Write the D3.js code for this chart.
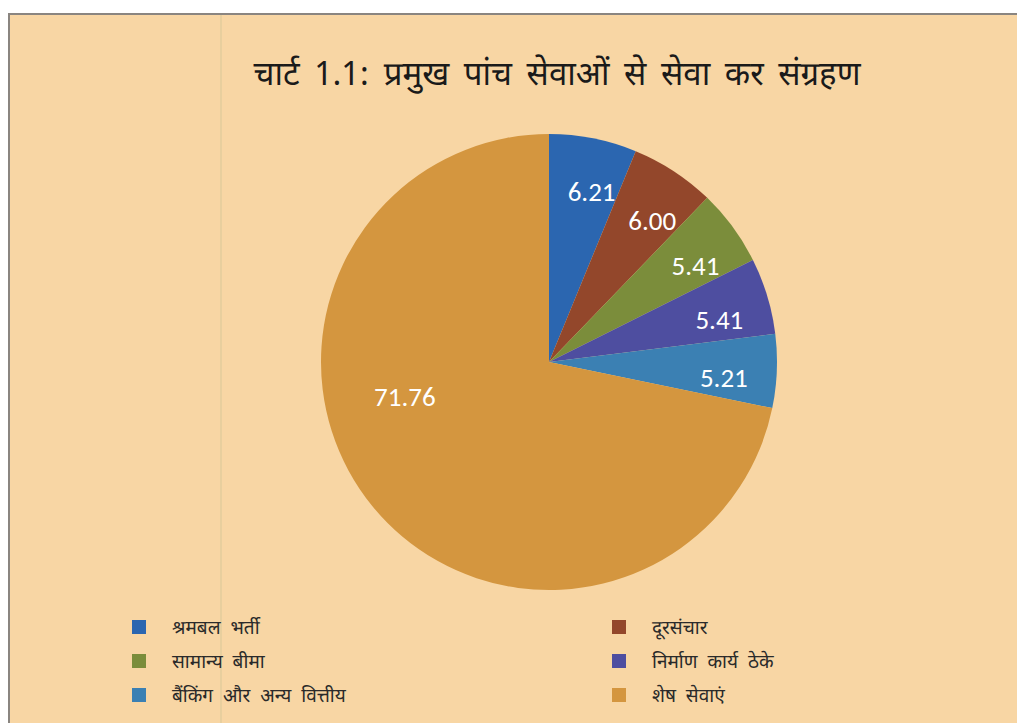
<!DOCTYPE html>
<html>
<head>
<meta charset="utf-8">
<script src="https://cdn.jsdelivr.net/npm/d3@7"></script>
<style>
  body { margin: 0; background: #fff; }
  svg { display: block; }
</style>
</head>
<body>
<svg width="1017" height="723"></svg>
<script>
const categories = ['श्रमबल भर्ती', 'दूरसंचार', 'सामान्य बीमा', 'निर्माण कार्य ठेके', 'बैंकिंग और अन्य वित्तीय', 'शेष सेवाएं'];
const shares = [6.21, 6.00, 5.41, 5.41, 5.21, 71.76];
const sliceColors = ['#2b66b0', '#93472b', '#7b8d3b', '#4e4ea0', '#3b80b3', '#d4963f'];
const titleText = 'चार्ट 1.1: प्रमुख पांच सेवाओं से सेवा कर संग्रहण';

const hindiFont = '"Noto Sans Devanagari", "Noto Sans", "Lohit Devanagari", sans-serif';
const svg = d3.select('svg');

// panel
svg.append('rect')
  .attr('x', 9).attr('y', 14)
  .attr('width', 1020).attr('height', 720)
  .attr('fill', '#f8d6a4')
  .attr('stroke', '#8a8580')
  .attr('stroke-width', 2);

// faint scan line
svg.append('line')
  .attr('x1', 221).attr('x2', 221)
  .attr('y1', 15).attr('y2', 723)
  .attr('stroke', '#e3cd9c')
  .attr('stroke-width', 1.5);

svg.append('text')
  .attr('x', 557).attr('y', 85)
  .attr('text-anchor', 'middle')
  .style('font-family', hindiFont)
  .style('font-size', '33px')
  .style('word-spacing', '6px')
  .attr('fill', '#1a1a1a')
  .text(titleText);

const cx = 549, cy = 362, radius = 228;
const g = svg.append('g').attr('transform', `translate(${cx},${cy})`);

const pie = d3.pie().sort(null).value(d => d);
const arcs = pie(shares);
const arc = d3.arc().innerRadius(0).outerRadius(radius);

g.selectAll('path')
  .data(arcs)
  .join('path')
  .attr('d', arc)
  .attr('fill', (d, i) => sliceColors[i]);

// label placement: small slices near the rim, big slice toward the left
const labelPos = d => {
  const big = d.value > 50;
  const a = big
    ? d.startAngle + 0.6 * (d.endAngle - d.startAngle)
    : (d.startAngle + d.endAngle) / 2 + 0.05;
  const r = big ? radius * 0.65 : radius * 0.77;
  return [r * Math.sin(a), -r * Math.cos(a)];
};

g.selectAll('text.val')
  .data(arcs)
  .join('text')
  .attr('class', 'val')
  .attr('x', d => labelPos(d)[0])
  .attr('y', d => labelPos(d)[1])
  .attr('text-anchor', 'middle')
  .attr('dy', '0.36em')
  .style('font-family', 'Carlito, Lato, "Open Sans", sans-serif')
  .style('font-size', '27px')
  .attr('fill', '#ffffff')
  .text(d => d.value.toFixed(2));

// legend, two columns
const legend = svg.append('g');
const items = legend.selectAll('g')
  .data(categories)
  .join('g')
  .attr('transform', (d, i) => `translate(${i % 2 === 0 ? 132 : 612},${620 + Math.floor(i / 2) * 34})`);

items.append('rect')
  .attr('width', 14).attr('height', 14)
  .attr('fill', (d, i) => sliceColors[i]);

items.append('text')
  .attr('x', 40).attr('y', 14)
  .style('font-family', hindiFont)
  .style('font-size', '19px')
  .style('word-spacing', '5px')
  .attr('fill', '#2a2a2a')
  .text(d => d);
</script>
</body>
</html>
